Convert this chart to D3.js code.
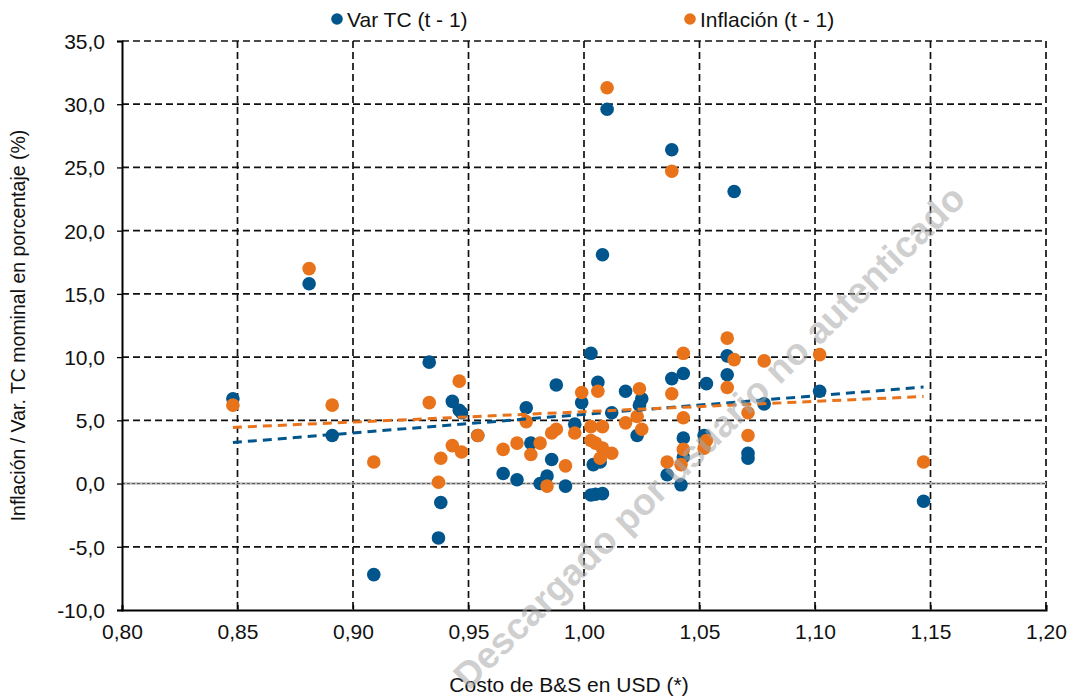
<!DOCTYPE html>
<html><head><meta charset="utf-8">
<script src="https://cdn.jsdelivr.net/npm/d3@7"></script>
<style>body{margin:0;background:#fff}svg{display:block;font-family:"Liberation Sans",Arial,sans-serif}</style>
</head><body><svg id="c" width="1070" height="696"></svg>
<script>
// ---- data ----
const seriesNames = ["Var TC (t - 1)", "Inflación (t - 1)"];
const blueX = [0.848,0.881,0.891,0.909,0.933,0.938,0.937,0.943,0.946,0.947,0.954,0.965,0.971,0.975,0.977,0.981,0.986,0.988,0.984,0.992,0.996,0.999,1.003,1.003,1.005,1.008,1.004,1.007,1.006,1.008,1.010,1.012,1.018,1.025,1.024,1.023,1.038,1.036,1.038,1.043,1.043,1.043,1.042,1.053,1.052,1.062,1.062,1.065,1.071,1.071,1.078,1.102,1.147];
const blueY = [6.7,15.8,3.8,-7.2,9.6,-1.5,-4.3,6.5,5.8,5.6,3.8,0.8,0.3,6.0,3.2,0.0,1.9,7.8,0.6,-0.2,4.7,6.4,10.3,-0.9,-0.85,-0.8,1.5,1.7,8.0,18.1,29.6,5.6,7.3,6.7,6.2,3.8,8.3,0.7,26.4,8.7,3.6,2.1,-0.1,7.9,3.8,10.1,8.6,23.1,2.4,2.0,6.3,7.3,-1.4];
const orangeX = [0.848,0.881,0.891,0.909,0.933,0.938,0.937,0.946,0.943,0.947,0.954,0.965,0.971,0.975,0.977,0.981,0.986,0.988,0.984,0.992,0.996,0.999,1.003,1.003,1.005,1.008,1.007,1.006,1.008,1.010,1.012,1.018,1.024,1.023,1.025,1.038,1.036,1.038,1.043,1.043,1.043,1.042,1.053,1.052,1.062,1.065,1.062,1.071,1.071,1.078,1.102,1.147];
const orangeY = [6.2,17.0,6.2,1.7,6.4,2.0,0.1,8.1,3.0,2.5,3.8,2.7,3.2,4.9,2.3,3.2,4.0,4.3,-0.2,1.4,4.0,7.2,4.5,3.4,3.2,2.8,2.0,7.3,4.5,31.3,2.4,4.8,7.5,5.3,4.3,7.1,1.7,24.7,10.3,5.2,2.7,1.5,3.4,2.8,11.5,9.8,7.6,5.6,3.8,9.7,10.2,1.7];
const xTicks = [0.80,0.85,0.90,0.95,1.00,1.05,1.10,1.15,1.20];
const yTicks = [-10,-5,0,5,10,15,20,25,30,35];
const xTitle = "Costo de B&S en USD (*)";
const yTitle = "Inflación / Var. TC mominal en porcentaje (%)";
const watermark = "Descargado por usuario no autenticado";
const colors = ["#00558C", "#E8731B"];

// ---- layout ----
const svg = d3.select("#c");
const L = 122, R = 1046, T = 41, B = 610;
const x = d3.scaleLinear().domain([0.80, 1.20]).range([L, R]);
const y = d3.scaleLinear().domain([-10, 35]).range([B, T]);
const fmtX = v => d3.format(".2f")(v).replace(".", ",");
const fmtY = v => d3.format(".1f")(v).replace(".", ",").replace("\u2212", "-");

// gridlines
const g = svg.append("g");
g.selectAll("line.vg").data(xTicks.slice(1)).join("line")
  .attr("x1", d => x(d)).attr("x2", d => x(d)).attr("y1", T).attr("y2", B)
  .attr("stroke", "#111").attr("stroke-width", 1.7).attr("stroke-dasharray", "7,4");
g.selectAll("line.hg").data(yTicks.filter(d => d !== -10 && d !== 0)).join("line")
  .attr("x1", L).attr("x2", R).attr("y1", d => y(d)).attr("y2", d => y(d))
  .attr("stroke", "#111").attr("stroke-width", 1.7).attr("stroke-dasharray", "7,4");
// zero line
g.append("line").attr("x1", L).attr("x2", R).attr("y1", y(0)).attr("y2", y(0))
  .attr("stroke", "#bdbdbd").attr("stroke-width", 2.5);
g.append("line").attr("x1", L).attr("x2", R).attr("y1", y(0)).attr("y2", y(0))
  .attr("stroke", "#555").attr("stroke-width", 1).attr("stroke-dasharray", "3,2");

// axes
const xa = svg.append("g").attr("transform", `translate(0,${B})`)
  .call(d3.axisBottom(x).tickValues(xTicks).tickFormat(fmtX).tickSize(-5).tickPadding(14));
const ya = svg.append("g").attr("transform", `translate(${L},0)`)
  .call(d3.axisLeft(y).tickValues(yTicks).tickFormat(fmtY).tickSize(5).tickPadding(12));
[xa, ya].forEach(a => {
  a.select(".domain").attr("stroke", "#000").attr("stroke-width", 2);
  a.selectAll(".tick line").attr("stroke", "#000").attr("stroke-width", 1.3);
  a.selectAll("text").attr("font-size", 21).attr("fill", "#111").attr("font-family", "Liberation Sans, Arial, sans-serif");
});
ya.selectAll("text").attr("dy", "0.35em");

// points
const blue = blueX.map((v, i) => ({x: v, y: blueY[i]}));
const orange = orangeX.map((v, i) => ({x: v, y: orangeY[i]}));
svg.append("g").selectAll("circle").data(blue).join("circle")
  .attr("cx", d => x(d.x)).attr("cy", d => y(d.y)).attr("r", 6.8).attr("fill", colors[0]);
svg.append("g").selectAll("circle").data(orange).join("circle")
  .attr("cx", d => x(d.x)).attr("cy", d => y(d.y)).attr("r", 6.8).attr("fill", colors[1]);

// linear trendlines (least squares)
function fit(pts) {
  const mx = d3.mean(pts, d => d.x), my = d3.mean(pts, d => d.y);
  const b = d3.sum(pts, d => (d.x - mx) * (d.y - my)) / d3.sum(pts, d => (d.x - mx) ** 2);
  return {b, a: my - b * mx, x0: d3.min(pts, d => d.x), x1: d3.max(pts, d => d.x)};
}
[[blue, colors[0]], [orange, colors[1]]].forEach(([pts, c]) => {
  const f = fit(pts);
  svg.append("line")
    .attr("x1", x(f.x0)).attr("y1", y(f.a + f.b * f.x0))
    .attr("x2", x(f.x1)).attr("y2", y(f.a + f.b * f.x1))
    .attr("stroke", c).attr("stroke-width", 3).attr("stroke-dasharray", "9,6");
});

// legend
const leg = [{name: seriesNames[0], c: colors[0], x: 337}, {name: seriesNames[1], c: colors[1], x: 690}];
leg.forEach(d => {
  svg.append("circle").attr("cx", d.x).attr("cy", 19).attr("r", 5.8).attr("fill", d.c);
  svg.append("text").attr("x", d.x + 10).attr("y", 26.5).attr("font-size", 21).attr("fill", "#111").text(d.name);
});

// titles
svg.append("text").attr("x", 569).attr("y", 692).attr("text-anchor", "middle")
  .attr("font-size", 21).attr("fill", "#111").text(xTitle);
svg.append("text").attr("transform", `translate(25,${(T + B) / 2}) rotate(-90)`).attr("text-anchor", "middle")
  .attr("font-size", 19.5).attr("fill", "#111").text(yTitle);

// watermark
svg.append("text").attr("transform", "translate(718,446) rotate(-44.5)").attr("text-anchor", "middle")
  .attr("font-size", 37).attr("font-weight", "bold").attr("fill", "#a8a8a8").attr("opacity", 0.55)
  .text(watermark);
</script></body></html>
